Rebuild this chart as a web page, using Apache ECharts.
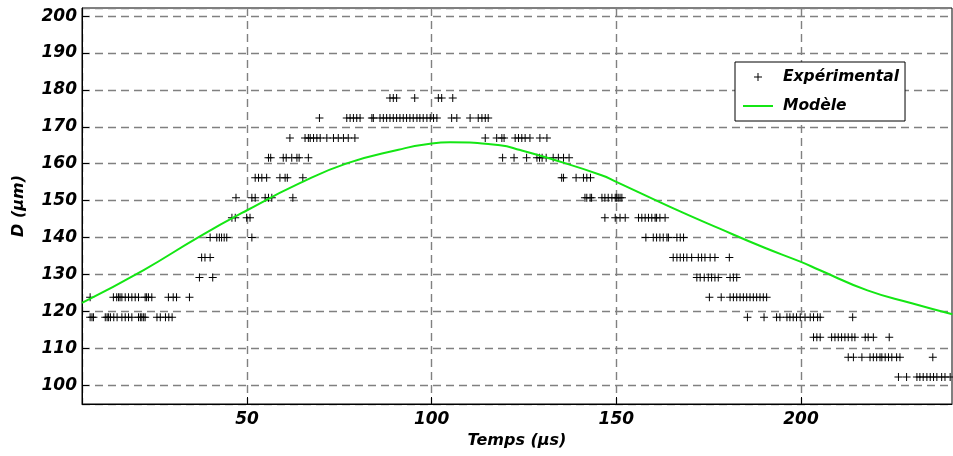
<!DOCTYPE html>
<html>
<head>
<meta charset="utf-8">
<script src="https://cdn.jsdelivr.net/npm/echarts@6/dist/echarts.min.js"></script>
<style>
html,body{margin:0;padding:0;background:#fff;}
#chart{width:953px;height:456px;}
</style>
</head>
<body>
<div id="chart"></div>
<script>
// Discrete measured diameter levels (µm) and the times (µs) at which each level was observed
const level_102 = 102.2, times_102 = [226.4, 228.6, 231.4, 232.2, 233.1, 234.1, 235.0, 235.9, 236.8, 238.1, 239.0, 240.4];
const level_108 = 107.6, times_108 = [212.8, 214.2, 216.5, 218.7, 219.6, 220.5, 221.4, 221.9, 222.8, 223.7, 224.6, 225.9, 226.8, 235.7];
const level_113 = 113.0, times_113 = [203.4, 204.3, 205.2, 208.3, 209.2, 210.1, 211.0, 211.9, 212.8, 213.8, 214.6, 217.4, 218.2, 219.6, 223.9];
const level_118 = 118.4, times_118 = [7.5, 8.0, 8.4, 11.6, 12.1, 12.5, 13.0, 13.9, 14.8, 16.1, 17.0, 17.9, 18.8, 20.6, 21.1, 21.5, 22.0, 22.4, 25.6, 26.5, 27.9, 28.8, 29.7,
  185.5, 190.0, 193.4, 194.3, 196.2, 197.0, 197.9, 198.8, 199.8, 201.1, 202.5, 203.4, 204.5, 205.2, 214.0];
const level_124 = 123.8, times_124 = [7.5, 13.8, 14.7, 15.2, 15.6, 16.1, 17.0, 17.9, 18.8, 19.7, 20.6, 22.4, 22.8, 23.3, 24.2, 28.7, 30.0, 30.9, 34.4,
  175.2, 178.4, 180.8, 181.7, 182.6, 183.5, 184.4, 185.3, 186.2, 187.1, 188.0, 188.9, 189.8, 190.7];
const level_129 = 129.2, times_129 = [37.1, 40.7, 171.8, 172.7, 173.8, 174.9, 175.8, 176.7, 177.6, 180.8, 181.7, 182.6];
const level_135 = 134.6, times_135 = [37.7, 38.6, 40.0, 165.4, 166.4, 167.3, 168.2, 169.1, 170.4, 172.2, 173.1, 174.0, 175.4, 176.7, 180.6];
const level_140 = 140.0, times_140 = [40.0, 41.8, 42.5, 43.1, 43.8, 44.5, 51.3, 158.0, 160.0, 160.9, 161.8, 162.7, 163.7, 164.1, 166.4, 167.3, 168.2];
const level_145 = 145.4, times_145 = [45.9, 46.8, 49.9, 50.8, 146.9, 149.7, 151.0, 152.4, 156.0, 156.9, 157.8, 158.7, 159.6, 160.5, 160.9, 161.8, 163.2];
const level_151 = 150.8, times_151 = [47.0, 51.3, 52.2, 54.9, 55.8, 56.7, 62.4, 141.5, 142.0, 142.9, 143.3, 146.1, 146.9, 147.8, 148.8, 149.7, 150.1, 150.5, 151.0, 151.5];
const level_156 = 156.2, times_156 = [52.2, 53.1, 54.0, 55.3, 58.9, 60.3, 60.9, 65.1, 135.2, 135.7, 139.1, 141.1, 142.0, 143.0];
const level_162 = 161.6, times_162 = [55.8, 56.4, 59.8, 60.6, 62.1, 63.5, 64.1, 66.6, 119.2, 122.3, 125.7, 128.5, 129.2, 129.9, 131.0, 132.9, 134.3, 135.7, 137.2];
const level_167 = 167.0, times_167 = [61.6, 65.7, 66.6, 67.1, 68.0, 68.9, 69.8, 71.6, 73.4, 74.7, 76.1, 77.4, 79.2,
  114.5, 117.6, 119.0, 119.6, 122.6, 123.5, 124.4, 125.3, 126.6, 129.3, 131.2];
const level_172 = 172.4, times_172 = [69.6, 77.0, 77.9, 78.8, 79.7, 80.6, 83.8, 84.2, 86.0, 86.9, 87.8, 88.7, 89.6, 90.5, 91.4, 92.3, 93.2, 94.1, 95.0, 96.0,
  96.8, 97.7, 98.7, 99.6, 100.5, 101.4, 105.4, 106.8, 110.4, 112.6, 113.6, 114.5, 115.3];
const level_178 = 177.8, times_178 = [88.7, 89.6, 90.5, 95.4, 101.8, 102.7, 105.7];

// Model curve
const modelT = [5.3, 22, 37, 50, 64, 77, 91, 100, 105, 118.5, 124, 132, 146, 150, 165, 178, 190, 200, 205, 218, 230, 241];
const modelD = [122.3, 131.2, 140.2, 147.4, 154.6, 160.1, 163.8, 165.5, 165.8, 165.0, 163.7, 161.4, 156.9, 155.1, 148.1, 142.4, 137.3, 133.4, 131.2, 125.7, 122.2, 119.2];

const levels = [
  [level_102, times_102], [level_108, times_108], [level_113, times_113], [level_118, times_118],
  [level_124, times_124], [level_129, times_129], [level_135, times_135], [level_140, times_140],
  [level_145, times_145], [level_151, times_151], [level_156, times_156], [level_162, times_162],
  [level_167, times_167], [level_172, times_172], [level_178, times_178]
];
const expData = [];
levels.forEach(([d, ts]) => ts.forEach(t => expData.push([t, d])));
const modelData = modelT.map((t, i) => [t, modelD[i]]);

const FONT = 'DejaVu Sans';
const plus = 'path://M3.5,0h1v3.5h3.5v1h-3.5v3.5h-1v-3.5h-3.5v-1h3.5z';
// same plus, with an invisible larger bounding box so the legend icon stays small
const plusLegend = 'path://M-3,-3M11,11M3.5,0h1v3.5h3.5v1h-3.5v3.5h-1v-3.5h-3.5v-1h3.5z';
const lineLegend = 'path://M0,0h30v2h-30z';
const gridLine = { show: true, lineStyle: { color: '#808080', width: 1.4, type: [8, 5] } };

const chart = echarts.init(document.getElementById('chart'), null, { renderer: 'canvas' });
chart.setOption({
  animation: false,
  backgroundColor: '#fff',
  grid: { left: 82, right: 1, top: 8, bottom: 52, show: true, borderColor: '#000', borderWidth: 1, backgroundColor: 'transparent' },
  legend: {
    left: 735, top: 62, orient: 'vertical',
    backgroundColor: '#fff', borderColor: '#000', borderWidth: 1,
    padding: [7, 6, 7, 8], itemGap: 13, itemWidth: 30, itemHeight: 14,
    symbolKeepAspect: true,
    textStyle: { fontFamily: FONT, fontWeight: 'bold', fontStyle: 'italic', fontSize: 15.5, color: '#000', padding: [0, 0, 0, 5] },
    data: [
      { name: 'Expérimental', icon: plusLegend, itemStyle: { color: '#000' } },
      { name: 'Modèle', icon: lineLegend, itemStyle: { color: '#14e614' } }
    ]
  },
  xAxis: {
    type: 'value', min: 5.3, max: 240.9, splitNumber: 5,
    name: 'Temps (µs)', nameLocation: 'middle', nameGap: 26,
    nameTextStyle: { fontFamily: FONT, fontWeight: 'bold', fontStyle: 'italic', fontSize: 16, color: '#000' },
    axisLine: { show: true, onZero: false, lineStyle: { color: '#000', width: 1 } },
    axisTick: { show: true, inside: true, length: 7, lineStyle: { color: '#000' } },
    axisLabel: { showMinLabel: false, showMaxLabel: false, margin: 7, fontFamily: FONT, fontWeight: 'bold', fontStyle: 'italic', fontSize: 17, color: '#000' },
    splitLine: gridLine
  },
  yAxis: {
    type: 'value', min: 94.9, max: 202.2, splitNumber: 10,
    name: 'D (µm)', nameLocation: 'middle', nameGap: 55, nameRotate: 90,
    nameTextStyle: { fontFamily: FONT, fontWeight: 'bold', fontStyle: 'italic', fontSize: 16, color: '#000' },
    axisLine: { show: true, onZero: false, lineStyle: { color: '#000', width: 1 } },
    axisTick: { show: true, inside: true, length: 7, lineStyle: { color: '#000' } },
    axisLabel: { showMinLabel: false, showMaxLabel: false, margin: 5, fontFamily: FONT, fontWeight: 'bold', fontStyle: 'italic', fontSize: 17, color: '#000' },
    splitLine: gridLine
  },
  series: [
    {
      name: 'Expérimental', type: 'scatter', data: expData,
      symbol: plus, symbolSize: 8, symbolKeepAspect: true,
      itemStyle: { color: '#000', opacity: 1 }, z: 3
    },
    {
      name: 'Modèle', type: 'line', data: modelData, smooth: 0.5,
      showSymbol: false, symbol: 'none',
      lineStyle: { color: '#14e614', width: 2 }, itemStyle: { color: '#14e614' }, z: 4
    }
  ]
});
</script>
</body>
</html>
